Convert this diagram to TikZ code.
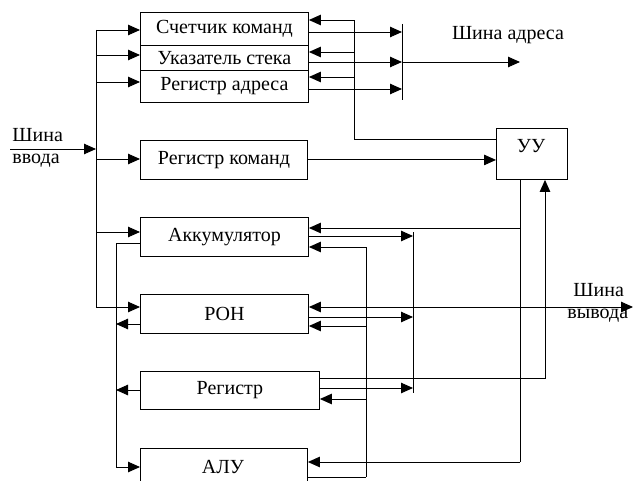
\documentclass[tikz,border=0pt]{standalone}
\usepackage{fontspec}
\setmainfont{Liberation Serif}
\usetikzlibrary{arrows.meta}
\begin{document}
\begin{tikzpicture}[x=1pt,y=-1pt,line width=0.9pt,
  txt/.style={font=\fontsize{20}{22}\selectfont},
  box/.style={draw, rectangle, inner sep=0pt, anchor=north west, txt},
  lbl/.style={inner sep=0pt, txt},
  arr/.style={-{Triangle[length=12pt,width=10.5pt]}},
  arr2/.style={{Triangle[length=12pt,width=10.5pt]}-{Triangle[length=12pt,width=10.5pt]}}]
\useasboundingbox (0,0) rectangle (634,481);
\clip (0,0) rectangle (634,481);
% boxes
\node[box, minimum width=168pt, minimum height=33pt] (sk) at (140,12) {Счетчик команд};
\node[box, minimum width=168pt, minimum height=25pt] (us) at (140,45) {Указатель стека};
\node[box, minimum width=168pt, minimum height=32pt] (ra) at (140,70) {Регистр адреса};
\node[box, minimum width=167pt, minimum height=39pt] (rk) at (140,140) {Регистр команд};
\node[box, minimum width=71pt, minimum height=51pt] (uu) at (496,128) {};
\node[lbl] (uut) at (531,146) {УУ};
\node[box, minimum width=168pt, minimum height=39pt] (ak) at (140,217) {Аккумулятор};
\node[box, minimum width=168pt, minimum height=39pt] (ron) at (140,294) {РОН};
\node[box, minimum width=179pt, minimum height=38pt] (reg) at (140,371) {Регистр};
\node[box, minimum width=167pt, minimum height=60pt] (alu) at (140,448) {};
\node[lbl] (alut) at (223,467) {АЛУ};
% labels
\node[lbl, anchor=west] (sv1) at (12,135) {Шина};
\node[lbl, anchor=west] (sv2) at (12,161) {ввода};
\node[lbl] (sa) at (508,35) {Шина адреса};
\node[lbl, anchor=west] (so1) at (573,290) {Шина};
\node[lbl, anchor=west] (so2) at (567,316) {вывода};
% input bus
\coordinate (in0) at (10,149);
\coordinate (inb) at (96,149);
\coordinate (b1) at (96,30);
\coordinate (b2) at (96,55);
\coordinate (b3) at (96,82);
\coordinate (b4) at (96,159);
\coordinate (b5) at (96,232);
\coordinate (b6) at (96,307);
\draw[arr] (in0) -- (inb);
\draw (b1) -- (b6);
\draw[arr] (b1) -- (sk.west |- b1);
\draw[arr] (b2) -- (us.west |- b2);
\draw[arr] (b3) -- (ra.west |- b3);
\draw[arr] (b4) -- (rk.west |- b4);
\draw[arr] (b5) -- (ak.west |- b5);
\draw[arr] (b6) -- (ron.west |- b6);
% left output bus
\coordinate (o1) at (116,243);
\coordinate (o2) at (116,324);
\coordinate (o3) at (116,390);
\coordinate (o4) at (116,467);
\draw[arr] (ak.west |- o1) -- (o1) -- (o4) -- (alu.west |- o4);
\draw[arr] (ron.west |- o2) -- (o2);
\draw[arr] (reg.west |- o3) -- (o3);
% top right
\coordinate (t1) at (354,20);
\coordinate (t2) at (354,52);
\coordinate (t3) at (354,77);
\coordinate (t4) at (354,139);
\draw[arr] (t4 -| uu.west) -- (t4) -- (t1) -- (sk.east |- t1);
\draw[arr] (t2) -- (us.east |- t2);
\draw[arr] (t3) -- (ra.east |- t3);
\coordinate (atop) at (402,24);
\coordinate (abot) at (402,100);
\coordinate (a1) at (402,32);
\coordinate (a2) at (402,62);
\coordinate (a3) at (402,89);
\coordinate (aend) at (520,62);
\draw (atop) -- (abot);
\draw[arr] (sk.east |- a1) -- (a1);
\draw[arr] (us.east |- a2) -- (a2);
\draw[arr] (ra.east |- a3) -- (a3);
\draw[arr] (a2) -- (aend);
\draw[arr] (rk.east) -- (rk.east -| uu.west);
% control lines from UU
\coordinate (c1) at (520,228);
\coordinate (c3) at (520,462);
\draw (uu.south -| c1) -- (c3);
\draw[arr] (c1) -- (ak.east |- c1);
\draw[arr] (c3) -- (alu.east |- c3);
\coordinate (v) at (633,307);
\draw[arr2] (v) -- (ron.east |- v);
\coordinate (e1) at (545,378);
\draw[arr] (reg.east |- e1) -- (e1) -- (e1 |- uu.south);
% bus x=413
\coordinate (f0) at (413,232);
\coordinate (f1) at (413,236);
\coordinate (f2) at (413,317);
\coordinate (f3) at (413,388);
\coordinate (f4) at (413,393);
\draw (f0) -- (f4);
\draw[arr] (ak.east |- f1) -- (f1);
\draw[arr] (ron.east |- f2) -- (f2);
\draw[arr] (reg.east |- f3) -- (f3);
% bus x=366
\coordinate (g1) at (366,247);
\coordinate (g2) at (366,326);
\coordinate (g3) at (366,399);
\coordinate (g4) at (366,477);
\draw (g1) -- (g4);
\draw[arr] (g1) -- (ak.east |- g1);
\draw[arr] (g2) -- (ron.east |- g2);
\draw[arr] (g3) -- (reg.east |- g3);
\draw (alu.east |- g4) -- (g4);
\end{tikzpicture}
\end{document}
